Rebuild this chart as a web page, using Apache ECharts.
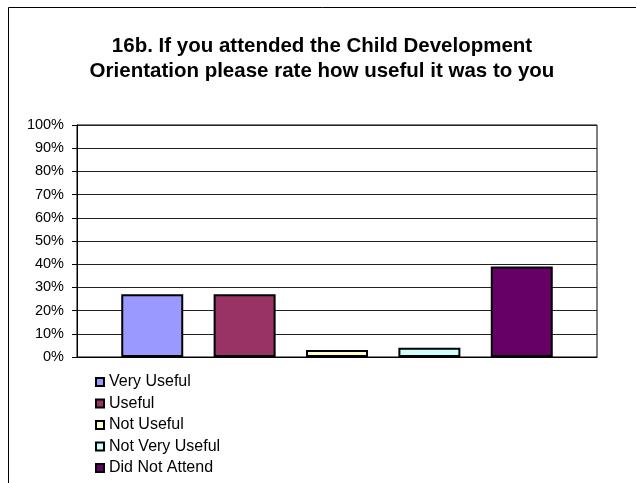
<!DOCTYPE html>
<html>
<head>
<meta charset="utf-8">
<script src="https://cdn.jsdelivr.net/npm/echarts@6/dist/echarts.min.js"></script>
<style>
  html, body { margin: 0; padding: 0; background: #fff; }
  #chart { width: 636px; height: 483px; }
</style>
</head>
<body>
<div id="chart"></div>
<script>
const titleText = '16b. If you attended the Child Development\nOrientation please rate how useful it was to you'
const answers = ['Very Useful', 'Useful', 'Not Useful', 'Not Very Useful', 'Did Not Attend']
const percents = [27, 27, 3, 4, 39]
const barColors = ['#9999FF', '#993366', '#FFFFCC', '#CCFFFF', '#660066']

const font = 'Liberation Sans, Arial, sans-serif'
const myChart = echarts.init(document.getElementById('chart'))

const series = answers.map((name, i) => ({
  name: name,
  type: 'bar',
  data: [percents[i]],
  barWidth: 62,
  barGap: '49%',
  itemStyle: { color: barColors[i], borderColor: '#000', borderWidth: 2 }
}))

const option = {
  backgroundColor: '#fff',
  animation: false,
  title: {
    text: titleText,
    left: 322,
    top: 34,
    padding: 0,
    textAlign: 'center',
    textStyle: { fontFamily: font, fontSize: 20.5, fontWeight: 'bold', color: '#000', lineHeight: 25 }
  },
  graphic: [{
    type: 'rect',
    shape: { x: 8.5, y: 7.5, width: 700, height: 600 },
    style: { fill: 'none', stroke: '#000', lineWidth: 1 },
    silent: true
  }],
  legend: {
    orient: 'vertical',
    left: 95,
    top: 374,
    padding: 0,
    itemWidth: 8,
    itemHeight: 8,
    itemGap: 5.5,
    icon: 'rect',
    textStyle: { fontFamily: font, fontSize: 16, color: '#000', lineHeight: 16 },
    itemStyle: { borderColor: '#000', borderWidth: 2 },
    data: answers
  },
  grid: {
    left: 77,
    right: 39,
    top: 125,
    bottom: 126,
    show: true,
    borderColor: '#000',
    borderWidth: 1
  },
  xAxis: {
    type: 'category',
    data: [''],
    axisLine: { lineStyle: { color: '#000' } },
    axisTick: { show: false },
    axisLabel: { show: false }
  },
  yAxis: {
    type: 'value',
    min: 0,
    max: 100,
    interval: 10,
    axisLine: { show: true, lineStyle: { color: '#000' } },
    axisTick: { show: true, length: 5, lineStyle: { color: '#000' } },
    axisLabel: { formatter: '{value}%', margin: 13, fontFamily: font, fontSize: 14.5, color: '#000' },
    splitLine: { lineStyle: { color: '#222' } }
  },
  series: series
}

myChart.setOption(option)
</script>
</body>
</html>
